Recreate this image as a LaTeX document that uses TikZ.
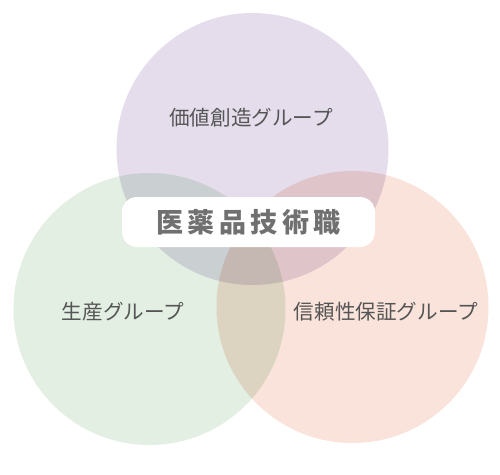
\documentclass[tikz,border=0pt]{standalone}
\usepackage{fontspec}
\newfontfamily\jpfont{Noto Sans CJK JP}
\usepackage{xcolor}
\definecolor{valuecol}{HTML}{E5DDEC}
\definecolor{prodcol}{HTML}{E2EFE2}
\definecolor{qualcol}{HTML}{F9E3DA}
\definecolor{textcol}{HTML}{555555}
\definecolor{titlecol}{HTML}{707070}

\begin{document}
\begin{tikzpicture}[
        x=1pt,
        y=-1pt,
        group/.style={circle, minimum size=272pt, inner sep=0pt},
        grouplabel/.style={font=\jpfont\fontsize{20.6}{24}\selectfont, text=textcol},
        titlebox/.style={
            fill=white,
            rounded corners=15pt,
            minimum width=253pt,
            minimum height=50pt,
            inner sep=0pt,
            font=\jpfont\bfseries\fontsize{27}{30}\selectfont\addfontfeature{LetterSpace=17},
            text=titlecol
        }
    ]
        % Canvas, same size as the reference image.
        \useasboundingbox (0,0) rectangle (500,474);

        % Three overlapping groups, mixed by multiplying colours.
        \begin{scope}[blend group=multiply]
            \node[group, fill=valuecol] (value) at (252.5,149) {};
            \node[group, fill=prodcol] (prod) at (149.5,309) {};
            \node[group, fill=qualcol] (qual) at (352.5,307) {};
        \end{scope}

        \node[grouplabel] (valuetxt) at (251,118) {価値創造グループ};
        \node[grouplabel] (prodtxt) at (123,312) {生産グループ};
        \node[grouplabel] (qualtxt) at (386,312) {信頼性保証グループ};

        \node[titlebox] (title) at (248.5,222) {医薬品技術職};

    \end{tikzpicture}
\end{document}
